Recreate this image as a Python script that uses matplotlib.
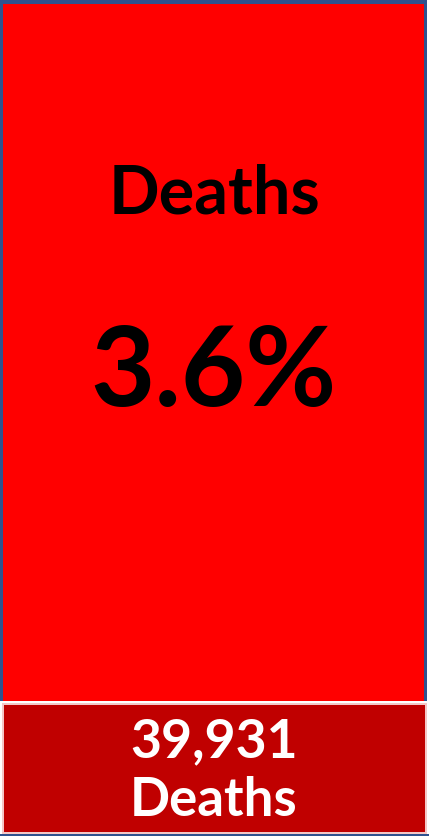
import matplotlib
matplotlib.use("Agg")
import matplotlib.pyplot as plt
from matplotlib.patches import Rectangle

title_label = "Deaths"
pct_value = 3.6
count_value = 39931
count_label = "Deaths"

W, H = 429, 836
fig = plt.figure(figsize=(W/100, H/100), dpi=100)
fig.patch.set_facecolor("white")
ax = fig.add_axes([0, 0, 1, 1])
ax.set_xlim(0, W)
ax.set_ylim(H, 0)
ax.axis("off")

# top panel: blue frame + red fill
ax.add_patch(Rectangle((0, 0), 427, 701, facecolor="#2F528F", edgecolor="none"))
ax.add_patch(Rectangle((3, 4), 421, 697, facecolor="#FF0000", edgecolor="none"))
# bottom panel
ax.add_patch(Rectangle((2, 703), 425, 131, facecolor="#F4C7C7", edgecolor="none"))
ax.add_patch(Rectangle((4, 705), 421, 127, facecolor="#C00000", edgecolor="none"))
ax.add_patch(Rectangle((0, 834), 429, 2, facecolor="#2F528F", edgecolor="none"))

fam = ["Lato", "DejaVu Sans"]
ax.text(215, 194, title_label, ha="center", va="center", fontsize=48,
        fontweight="bold", family=fam, color="black")
ax.text(213, 374, f"{pct_value:.1f}%", ha="center", va="center", fontsize=80,
        fontweight="bold", family=fam, color="black")
ax.text(214, 742, f"{count_value:,}", ha="center", va="center", fontsize=38.5,
        fontweight="bold", family=fam, color="white")
ax.text(214, 801, count_label, ha="center", va="center", fontsize=38,
        fontweight="bold", family=fam, color="white")

fig.savefig("out.png", dpi=100, facecolor=fig.get_facecolor())
